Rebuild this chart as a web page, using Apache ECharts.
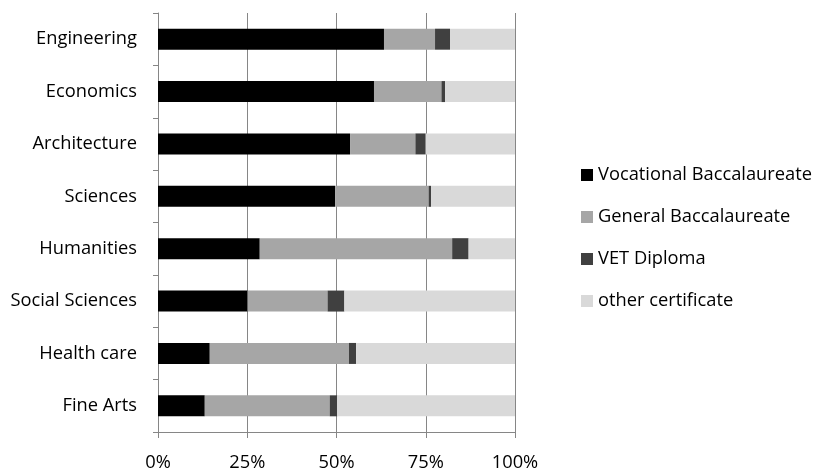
<!DOCTYPE html>
<html>
<head>
<meta charset="utf-8">
<script src="https://cdn.jsdelivr.net/npm/echarts@6/dist/echarts.min.js"></script>
<style>
  html, body { margin: 0; padding: 0; background: #fff; }
  #chart { width: 816px; height: 472px; }
</style>
</head>
<body>
<div id="chart"></div>
<script>
// Share of students by entry qualification, per field of study (percent)
const categories = ['Engineering', 'Economics', 'Architecture', 'Sciences', 'Humanities', 'Social Sciences', 'Health care', 'Fine Arts'];
const vocationalBacc = [63.3, 60.5, 53.8, 49.6, 28.5, 25.1, 14.5, 13.1];
const generalBacc    = [14.3, 18.9, 18.3, 26.2, 53.9, 22.4, 39.0, 35.0];
const vetDiploma     = [4.2, 1.0, 2.9, 0.7, 4.6, 4.7, 2.0, 2.1];
const otherCert      = [18.2, 19.6, 25.0, 23.5, 13.0, 47.8, 44.5, 49.8];
const xTicks = [0, 25, 50, 75, 100];

const seriesDefs = [
  { name: 'Vocational Baccalaureate', data: vocationalBacc, color: '#000000' },
  { name: 'General Baccalaureate',    data: generalBacc,    color: '#a6a6a6' },
  { name: 'VET Diploma',              data: vetDiploma,     color: '#404040' },
  { name: 'other certificate',        data: otherCert,      color: '#d9d9d9' }
];

const FONT = '"Open Sans", sans-serif';
const FONT_SIZE = 18.3;
const AXIS_GRAY = '#868686';

const chart = echarts.init(document.getElementById('chart'), null, { renderer: 'canvas' });
chart.setOption({
  animation: false,
  backgroundColor: '#ffffff',
  textStyle: { fontFamily: FONT },
  grid: { left: 158, right: 301, top: 13, bottom: 38, containLabel: false },
  legend: {
    orient: 'vertical',
    left: 576,
    top: 160,
    icon: 'rect',
    itemWidth: 12,
    itemHeight: 12,
    itemGap: 22,
    textStyle: { fontFamily: FONT, fontSize: FONT_SIZE, color: '#000', lineHeight: 20 },
    data: seriesDefs.map(s => s.name)
  },
  xAxis: {
    type: 'value',
    min: xTicks[0],
    max: xTicks[xTicks.length - 1],
    interval: 25,
    axisLine: { show: true, lineStyle: { color: AXIS_GRAY, width: 1 } },
    axisTick: { show: true, length: 6, lineStyle: { color: AXIS_GRAY } },
    splitLine: { show: true, lineStyle: { color: AXIS_GRAY, width: 1 } },
    axisLabel: {
      margin: 22,
      fontFamily: FONT,
      fontSize: FONT_SIZE,
      color: '#000',
      formatter: v => v + '%'
    }
  },
  yAxis: {
    type: 'category',
    inverse: true,
    data: categories,
    axisLine: { show: true, lineStyle: { color: AXIS_GRAY, width: 1 } },
    axisTick: { show: true, length: 5, lineStyle: { color: AXIS_GRAY } },
    axisLabel: { margin: 21, fontFamily: FONT, fontSize: FONT_SIZE, color: '#000' }
  },
  series: seriesDefs.map(s => ({
    name: s.name,
    type: 'bar',
    stack: 'total',
    barWidth: 21,
    data: s.data,
    itemStyle: { color: s.color },
    emphasis: { disabled: true }
  }))
});
</script>
</body>
</html>
